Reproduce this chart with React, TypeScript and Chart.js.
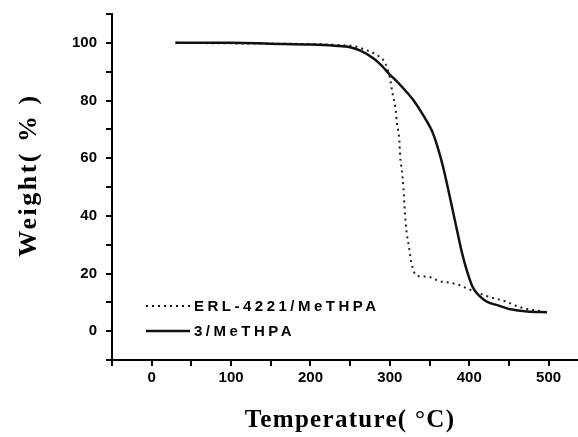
import React, { useEffect, useRef } from "react";
import { Chart, registerables } from "chart.js";

Chart.register(...registerables);

// ---- data ----
const seriesNames = ["ERL-4221/MeTHPA", "3/MeTHPA"];

const tempDotted = [30, 150, 250, 270, 282, 294, 300, 303, 307, 309, 312, 313, 315, 317, 319, 321, 324, 327, 333, 340, 351, 363, 372, 385, 400, 424, 445, 464, 489];
const weightDotted = [100, 99.7, 99, 97.5, 96, 93, 88, 83, 77.5, 72, 66, 60.5, 56, 50, 41, 34.6, 29.4, 24, 19.4, 19, 18.7, 17.3, 17, 16.2, 14.5, 12, 10.4, 8.3, 7];

const tempSolid = [30, 100, 150, 200, 230, 250, 263, 280, 290, 300, 310, 320, 330, 340, 347, 353, 360, 367, 376, 385, 391, 397, 404, 418, 439, 452, 473, 498];
const weightSolid = [100, 100, 99.7, 99.4, 99, 98.5, 97.3, 94.5, 92, 89, 86.3, 83.3, 80, 75.8, 72.6, 69.5, 64, 57, 46, 34.5, 27, 21, 15.5, 11, 8.7, 7.6, 6.8, 6.6];

const xTickLabels = [0, 100, 200, 300, 400, 500];
const yTickLabels = [0, 20, 40, 60, 80, 100];

const xTitle = "Temperature( °C)";
const yTitle = "Weight( % )";

const DOT_DASH = [2, 4];

const decorPlugin = {
  id: "decor",
  afterDraw(chart: any) {
    const ctx = chart.ctx;
    ctx.save();
    ctx.fillStyle = "#000";
    ctx.textBaseline = "middle";
    ctx.textAlign = "center";
    // y title
    ctx.font = "bold 26px 'Liberation Serif', 'Times New Roman', serif";
    (ctx as any).letterSpacing = "2.5px";
    ctx.save();
    ctx.translate(29, 175);
    ctx.rotate(-Math.PI / 2);
    ctx.fillText(yTitle, 0, 0);
    ctx.restore();
    // x title
    ctx.font = "bold 25px 'Liberation Serif', 'Times New Roman', serif";
    (ctx as any).letterSpacing = "1.3px";
    ctx.fillText(xTitle, 350, 421);

    // legend
    const items = [
      { name: seriesNames[0], dash: DOT_DASH, width: 2, y: 306 },
      { name: seriesNames[1], dash: [], width: 2.5, y: 331 },
    ];
    ctx.font = "bold 15px 'Liberation Sans', Arial, sans-serif";
    (ctx as any).letterSpacing = "3.5px";
    ctx.textAlign = "left";
    for (const it of items) {
      ctx.beginPath();
      ctx.setLineDash(it.dash);
      ctx.lineWidth = it.width;
      ctx.strokeStyle = "#111";
      ctx.moveTo(146, it.y);
      ctx.lineTo(190, it.y);
      ctx.stroke();
      ctx.setLineDash([]);
      ctx.fillText(it.name, 194, it.y + 1);
    }
    ctx.restore();
  },
};

export default function App() {
  const ref = useRef<HTMLCanvasElement | null>(null);
  useEffect(() => {
    if (!ref.current) return;
    const tickFont = { family: "'Liberation Sans', Arial, sans-serif", weight: "bold" as const, size: 15 };
    const chart = new Chart(ref.current, {
      type: "line",
      data: {
        datasets: [
          {
            label: seriesNames[1],
            data: tempSolid.map((t, i) => ({ x: t, y: weightSolid[i] })),
            borderColor: "#111",
            borderWidth: 2.5,
            pointRadius: 0,
            cubicInterpolationMode: "monotone",
            order: 0,
          },
          {
            label: seriesNames[0],
            data: tempDotted.map((t, i) => ({ x: t, y: weightDotted[i] })),
            borderColor: "#222",
            borderWidth: 2,
            borderDash: DOT_DASH,
            pointRadius: 0,
            cubicInterpolationMode: "monotone",
            order: 1,
          },
        ],
      },
      options: {
        animation: false,
        responsive: false,
        layout: { padding: { top: 14, right: 0, left: 0, bottom: 0 } },
        plugins: { legend: { display: false }, tooltip: { enabled: false } },
        scales: {
          x: {
            type: "linear",
            min: -50,
            max: 537,
            border: { display: true, color: "#000", width: 2 },
            grid: { drawOnChartArea: false, color: "#000", lineWidth: 2, tickLength: 6 },
            ticks: {
              stepSize: 50,
              includeBounds: false,
              autoSkip: false,
              maxRotation: 0,
              color: "#000",
              font: tickFont,
              padding: 3,
              callback: (v: any) => (xTickLabels.includes(Number(v)) ? String(v) : ""),
            },
            afterFit: (s: any) => {
              s.height = 77;
              s.paddingLeft = 0;
              s.paddingRight = 0;
            },
          },
          y: {
            type: "linear",
            min: -10,
            max: 110,
            border: { display: true, color: "#000", width: 2 },
            grid: { drawOnChartArea: false, color: "#000", lineWidth: 2, tickLength: 6 },
            ticks: {
              stepSize: 10,
              autoSkip: false,
              color: "#000",
              font: tickFont,
              padding: 9,
              callback: (v: any) => (yTickLabels.includes(Number(v)) ? String(v) : ""),
            },
            afterFit: (s: any) => {
              s.width = 112;
              s.paddingTop = 0;
              s.paddingBottom = 0;
            },
          },
        },
      },
      plugins: [decorPlugin],
    });
    return () => chart.destroy();
  }, []);
  return (
    <div style={{ position: "absolute", left: 0, top: 0, width: 578, height: 437, background: "#fff" }}>
      <canvas ref={ref} width={578} height={437} />
    </div>
  );
}
